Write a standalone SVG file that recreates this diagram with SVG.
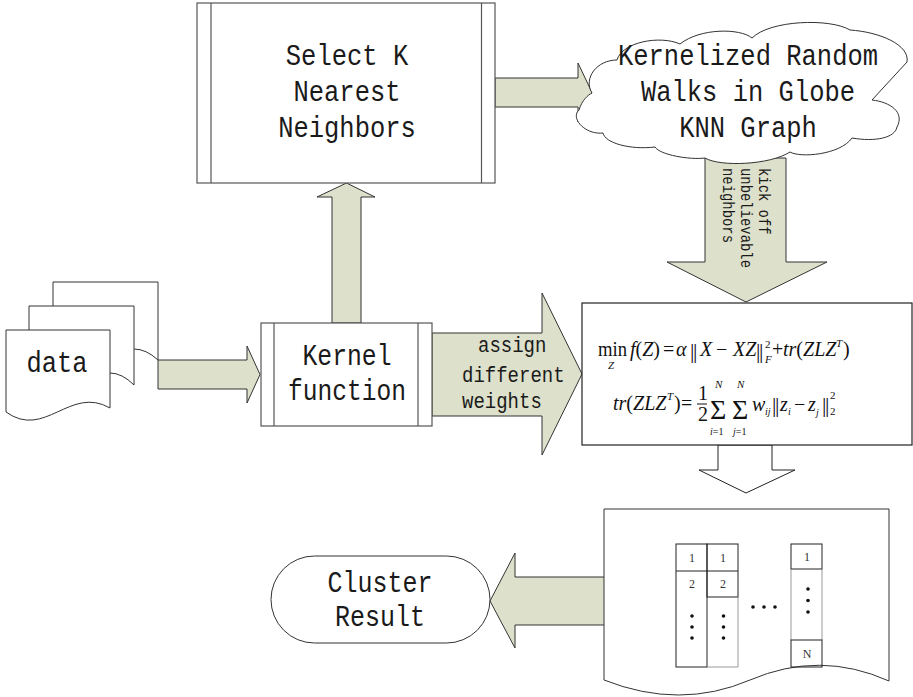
<svg xmlns="http://www.w3.org/2000/svg" width="913" height="697" viewBox="0 0 913 697">
<style>
.bg{fill:#fff}
.box{fill:#fff;stroke:#555;stroke-width:1.2}
.inner{stroke:#555;stroke-width:1.2;fill:none}
.arr{fill:#dde0cb;stroke:#333;stroke-width:1}
.warr{fill:#fff;stroke:#222;stroke-width:1}
.lbl{font-family:"Liberation Mono","DejaVu Sans Mono",monospace;fill:#1a1a1a}
.big{font-size:30px;text-anchor:middle}
.mid{font-size:22px}
.sm{font-size:17px}
.m{font-family:"Liberation Serif","DejaVu Serif",serif;fill:#111;font-size:20px}
.i{font-style:italic}
.s{font-size:11px}
.bar{font-size:22px}
.sig{font-size:28px}
.tb{fill:none;stroke:#222;stroke-width:1}
.tg{fill:none;stroke:#999;stroke-width:1}
.cell{font-family:"Liberation Serif","DejaVu Serif",serif;font-size:12px;fill:#333;text-anchor:middle}
.dot{fill:#111}
</style>
<rect class="bg" x="0" y="0" width="913" height="697"/>

<g id="connectors">
  <polygon class="arr" points="495,78 578,78 578,63 592,92.5 578,122 578,107 495,107"/>
  <polygon class="arr" points="332,323 332,197 317,197 346.5,183 375,197 361,197 361,323"/>
  <polygon class="arr" points="158,360 247,360 247,346 260,374.5 247,403 247,389 158,389"/>
  <polygon class="arr" points="432,333 542,333 542,293 582,374 542,455 542,416 432,416"/>
  <polygon class="arr" points="705,158 786,158 786,262 827,262 746,302 667,262 705,262"/>
  <polygon class="warr" points="718,445 772,445 772,470 795,470 746,493 699,470 718,470"/>
  <polygon class="arr" points="605,577 515,577 515,553 490,601 515,648 515,625 605,625"/>
  <g class="lbl sm">
    <text transform="translate(759,168) rotate(90)" textLength="66.6" lengthAdjust="spacingAndGlyphs">kick off</text>
    <text transform="translate(741,168) rotate(90)" textLength="100" lengthAdjust="spacingAndGlyphs">unbelievable</text>
    <text transform="translate(723,168) rotate(90)" textLength="75" lengthAdjust="spacingAndGlyphs">neighbors</text>
  </g>
  <g class="lbl mid">
    <text x="478" y="352" textLength="68.4" lengthAdjust="spacingAndGlyphs">assign</text>
    <text x="462" y="382" textLength="102.6" lengthAdjust="spacingAndGlyphs">different</text>
    <text x="462" y="408" textLength="79.8" lengthAdjust="spacingAndGlyphs">weights</text>
  </g>
</g>

<g id="select-knn">
  <rect class="box" x="197" y="3" width="298" height="180"/>
  <line class="inner" x1="211" y1="3" x2="211" y2="183"/>
  <line class="inner" x1="481.5" y1="3" x2="481.5" y2="183"/>
  <text class="lbl big" x="347" y="65" textLength="122.4" lengthAdjust="spacingAndGlyphs">Select K</text>
  <text class="lbl big" x="347" y="101" textLength="107.1" lengthAdjust="spacingAndGlyphs">Nearest</text>
  <text class="lbl big" x="347" y="137" textLength="137.7" lengthAdjust="spacingAndGlyphs">Neighbors</text>
</g>

<g id="random-walks">
  <path fill="#fff" stroke="#333" stroke-width="1" d="M592,93 C583,78 597,60 617,60 C622,42 660,35 680,44 C700,28 740,28 752,38 C770,20 830,18 850,30 C880,32 910,45 907,62 L872,100 C890,102 905,112 897,127 C895,138 875,142 852,138 C840,155 800,158 790,152 C770,165 720,167 705,158 C690,160 660,155 655,147 C630,150 605,143 603,133 C585,135 570,118 579,110 C582,100 588,95 592,93 Z"/>
  <text class="lbl big" x="748" y="65" textLength="260.1" lengthAdjust="spacingAndGlyphs">Kernelized Random</text>
  <text class="lbl big" x="748" y="101" textLength="214.2" lengthAdjust="spacingAndGlyphs">Walks in Globe</text>
  <text class="lbl big" x="748" y="137" textLength="137.7" lengthAdjust="spacingAndGlyphs">KNN Graph</text>
</g>

<g id="data">
  <path fill="#fff" stroke="#333" stroke-width="1" d="M53,282 H158 V360 Q146,349 134,349 L53,349 Z"/>
  <path fill="#fff" stroke="#333" stroke-width="1" d="M29,306 H134 V385 Q122,373 110,373 L29,373 Z"/>
  <path fill="#fff" stroke="#333" stroke-width="1" d="M6,330 H110 V408 C70,385 45,440 6,412 Z"/>
  <text class="lbl big" x="57" y="372" textLength="61" lengthAdjust="spacingAndGlyphs">data</text>
</g>

<g id="kernel-function">
  <rect class="box" x="261" y="323" width="171" height="103"/>
  <line class="inner" x1="274" y1="323" x2="274" y2="426"/>
  <line class="inner" x1="418" y1="323" x2="418" y2="426"/>
  <text class="lbl big" x="347" y="365" textLength="89" lengthAdjust="spacingAndGlyphs">Kernel</text>
  <text class="lbl big" x="347" y="400" textLength="118" lengthAdjust="spacingAndGlyphs">function</text>
</g>

<g id="objective">
  <rect fill="#fff" stroke="#222" stroke-width="1.2" x="582" y="303" width="330" height="142"/>
  <text class="m" x="598" y="356" textLength="29" lengthAdjust="spacingAndGlyphs">min</text>
  <text class="m i s" x="608" y="369">Z</text>
  <text class="m" x="630" y="356"><tspan class="i">f</tspan>(<tspan class="i">Z</tspan>)</text>
  <text class="m" x="663" y="356">=</text>
  <text class="m i" x="676" y="356">α</text>
  <text class="m bar" x="690" y="358" letter-spacing="-1.5">||</text>
  <text class="m i" x="700" y="356">X</text>
  <text class="m" x="716" y="356">−</text>
  <text class="m i" x="733" y="356">XZ</text>
  <text class="m bar" x="756" y="358" letter-spacing="-1.5">||</text>
  <text class="m s" x="765" y="348">2</text>
  <text class="m i s" x="765" y="363">F</text>
  <text class="m" x="772" y="356">+</text>
  <text class="m" x="783" y="356"><tspan class="i">tr</tspan>(<tspan class="i">ZLZ</tspan></text>
  <text class="m i s" x="836" y="347">T</text>
  <text class="m" x="843" y="356">)</text>

  <text class="m" x="613" y="410"><tspan class="i">tr</tspan>(<tspan class="i">ZLZ</tspan></text>
  <text class="m i s" x="667" y="400">T</text>
  <text class="m" x="674" y="410">)</text>
  <text class="m" x="681" y="410">=</text>
  <text class="m" x="698" y="400">1</text>
  <line x1="697" y1="404" x2="707" y2="404" stroke="#111" stroke-width="1"/>
  <text class="m" x="698" y="421">2</text>
  <text class="m sig" x="710" y="419">Σ</text>
  <text class="m i s" x="715" y="388">N</text>
  <text class="m" x="710" y="435" style="font-size:10px"><tspan class="i">i</tspan>=1</text>
  <text class="m sig" x="732" y="419">Σ</text>
  <text class="m i s" x="737" y="388">N</text>
  <text class="m" x="733" y="435" style="font-size:10px"><tspan class="i">j</tspan>=1</text>
  <text class="m i" x="752" y="411">w</text>
  <text class="m i" x="765" y="415" style="font-size:10px">ij</text>
  <text class="m bar" x="772" y="412" letter-spacing="-1.5">||</text>
  <text class="m i" x="780" y="411">z</text>
  <text class="m i" x="788" y="415" style="font-size:10px">i</text>
  <text class="m" x="794" y="411">−</text>
  <text class="m i" x="808" y="411">z</text>
  <text class="m i" x="816" y="416" style="font-size:10px">j</text>
  <text class="m bar" x="822" y="412" letter-spacing="-1.5">||</text>
  <text class="m s" x="830" y="399">2</text>
  <text class="m s" x="830" y="415">2</text>
</g>

<g id="cluster-matrix">
  <path fill="#fff" stroke="#333" stroke-width="1" d="M604,509 H889 V681 Q820,650 750,680 Q680,710 604,680 Z"/>
  <rect class="tb" x="676" y="544" width="31" height="123"/>
  <rect class="tb" x="707" y="544" width="31" height="53"/>
  <line class="tb" x1="676" y1="571" x2="738" y2="571"/>
  <polyline class="tg" points="738,597 738,667 707,667"/>
  <rect class="tb" x="791" y="544" width="31" height="25"/>
  <line class="tg" x1="791" y1="569" x2="791" y2="640"/>
  <line class="tg" x1="822" y1="569" x2="822" y2="640"/>
  <rect class="tb" x="791" y="640" width="31" height="27"/>
  <text class="cell" x="692" y="562">1</text>
  <text class="cell" x="723" y="562">1</text>
  <text class="cell" x="807" y="561">1</text>
  <text class="cell" x="692" y="588">2</text>
  <text class="cell" x="723" y="588">2</text>
  <text class="cell" x="807" y="658">N</text>
  <circle class="dot" cx="692" cy="616" r="1.8"/>
  <circle class="dot" cx="692" cy="627" r="1.8"/>
  <circle class="dot" cx="692" cy="638" r="1.8"/>
  <circle class="dot" cx="723.5" cy="616" r="1.8"/>
  <circle class="dot" cx="723.5" cy="627" r="1.8"/>
  <circle class="dot" cx="723.5" cy="638" r="1.8"/>
  <circle class="dot" cx="808" cy="589" r="1.8"/>
  <circle class="dot" cx="808" cy="600.5" r="1.8"/>
  <circle class="dot" cx="808" cy="612" r="1.8"/>
  <circle class="dot" cx="753" cy="607" r="1.8"/>
  <circle class="dot" cx="764" cy="607" r="1.8"/>
  <circle class="dot" cx="775" cy="607" r="1.8"/>
</g>

<g id="cluster-result">
  <rect fill="#fff" stroke="#333" stroke-width="1" x="271" y="556" width="219" height="87" rx="43.5" ry="43.5"/>
  <text class="lbl big" x="380" y="592" textLength="105" lengthAdjust="spacingAndGlyphs">Cluster</text>
  <text class="lbl big" x="380" y="626" textLength="90" lengthAdjust="spacingAndGlyphs">Result</text>
</g>
</svg>
